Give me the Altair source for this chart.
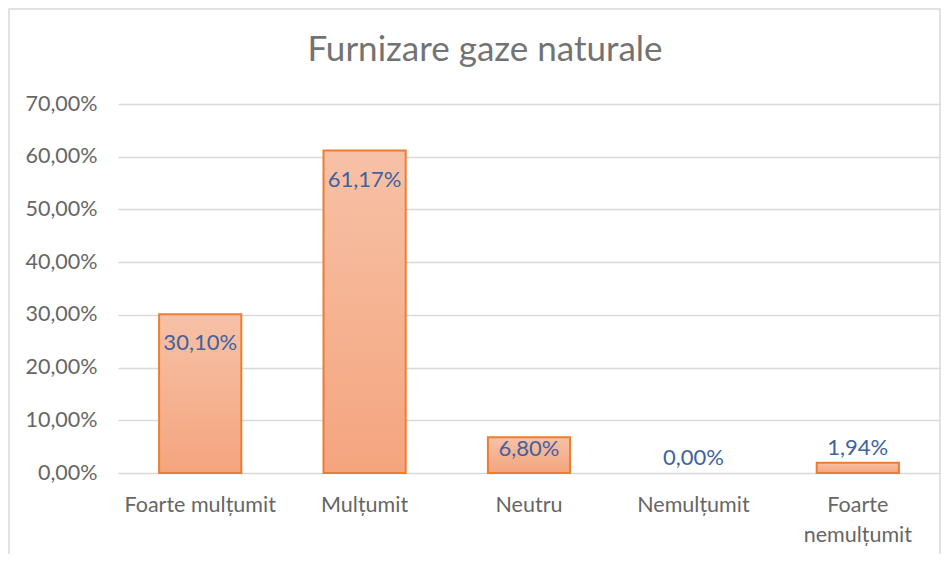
import altair as alt
import pandas as pd

categories = ["Foarte mulțumit", "Mulțumit", "Neutru", "Nemulțumit", "Foarte nemulțumit"]
values = [0.3010, 0.6117, 0.0680, 0.0000, 0.0194]
label_pos = ["inside", "inside", "inside_short", "above", "above"]
y_ticks = [0.0, 0.1, 0.2, 0.3, 0.4, 0.5, 0.6, 0.7]

df = pd.DataFrame({"cat": categories, "val": values, "pos": label_pos})

FONT = "Lato"
GRAY = "#666666"
TITLE_GRAY = "#737373"
BLUE = "#4062A0"

x_enc = alt.X("cat:N", sort=categories, title=None,
              scale=alt.Scale(paddingInner=0.5, paddingOuter=0.25),
              axis=alt.Axis(labelAngle=0, labelFont=FONT, labelFontSize=21.5, labelColor=GRAY,
                            labelPadding=21, ticks=False, domain=False, labelLineHeight=30,
                            labelLimit=200,
                            labelExpr="datum.label == 'Foarte nemulțumit' ? ['Foarte', 'nemulțumit'] : datum.label"))
y_enc = alt.Y("val:Q", title=None,
              scale=alt.Scale(domain=[0, 0.7], nice=False),
              axis=alt.Axis(values=y_ticks, labelFont=FONT, labelFontSize=21.5, labelColor=GRAY,
                            labelPadding=21, ticks=False, domain=False,
                            gridColor="#D9D9D9", gridWidth=1.5,
                            labelExpr="replace(format(datum.value, '.2%'), '.', ',')"))

base = alt.Chart(df)

frame = base.mark_rect(fill="transparent", stroke="#D9D9D9", strokeWidth=1.5).encode(
    x=alt.value(-109), x2=alt.value(822), y=alt.value(-95), y2=alt.value(480)
).transform_filter("datum.cat == 'Neutru'")

gradient = alt.LinearGradient(
    gradient="linear",
    stops=[alt.GradientStop(color="#F7C1A6", offset=0),
           alt.GradientStop(color="#F4A57E", offset=1)],
    x1=0, x2=0, y1=0, y2=1,
)

bars = base.mark_bar(fill=gradient, stroke="#ED7D31", strokeWidth=2).encode(
    x=x_enc, y=y_enc
).transform_filter("datum.val > 0")

text_common = dict(font=FONT, fontSize=22, color=BLUE, baseline="middle", align="center")
lab_expr = "replace(format(datum.val, '.2%'), '.', ',')"

t_inside = base.mark_text(dy=29, **text_common).encode(
    x=alt.X("cat:N", sort=categories), y="val:Q", text="lab:N"
).transform_filter("datum.pos == 'inside'").transform_calculate(lab=lab_expr)

t_short = base.mark_text(dy=12, **text_common).encode(
    x=alt.X("cat:N", sort=categories), y="val:Q", text="lab:N"
).transform_filter("datum.pos == 'inside_short'").transform_calculate(lab=lab_expr)

t_above = base.mark_text(dy=-15, **text_common).encode(
    x=alt.X("cat:N", sort=categories), y="val:Q", text="lab:N"
).transform_filter("datum.pos == 'above'").transform_calculate(lab=lab_expr)

chart = alt.layer(frame, bars, t_inside, t_short, t_above).properties(
    width=822, height=369,
    padding={"left": 110, "top": 96, "right": 2, "bottom": 81},
    autosize=alt.AutoSizeParams(type="none"),
    title=alt.TitleParams("Furnizare gaze naturale", font=FONT, fontSize=35, fontWeight="normal",
                          color=TITLE_GRAY, anchor="middle", frame="group", dx=-44, offset=-88,
                          baseline="alphabetic"),
).configure_view(stroke=None)

chart.save("out.html", embed_options={"renderer": "svg", "actions": False})
